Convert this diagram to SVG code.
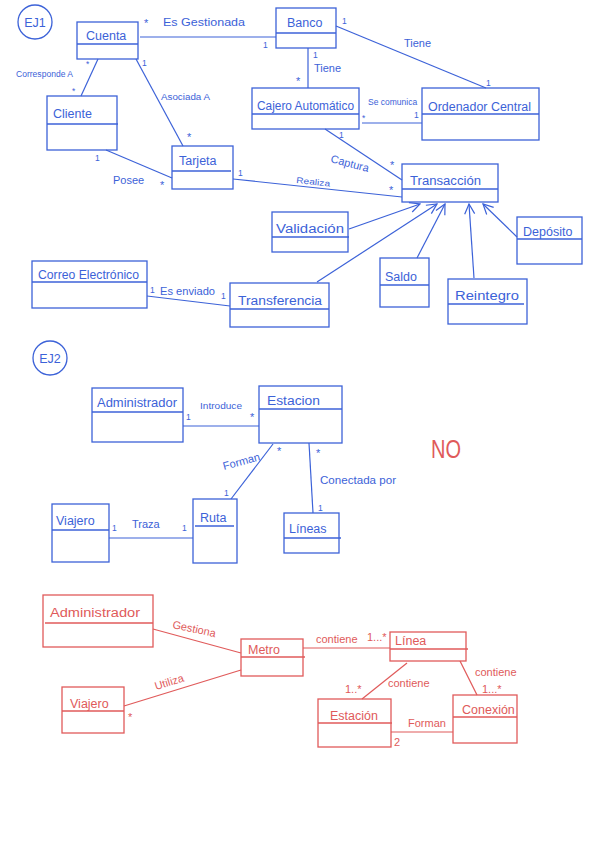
<svg xmlns="http://www.w3.org/2000/svg" width="600" height="848" viewBox="0 0 600 848">
<style>
.bb{fill:none;stroke:#3c62d8;stroke-width:1.3}
.rb{fill:none;stroke:#e05a5a;stroke-width:1.3}
.bl{fill:none;stroke:#3c62d8;stroke-width:1.2}
.rl{fill:none;stroke:#e05a5a;stroke-width:1.2}
text{font-family:"Liberation Sans","DejaVu Sans",sans-serif}
.bt{fill:#3c62d8;font-size:12.5px}
.bs{fill:#3c62d8;font-size:11px}
.bx{fill:#3c62d8;font-size:8.5px}
.rt{fill:#e05a5a;font-size:12.5px}
.rs{fill:#e05a5a;font-size:11px}
</style>
<defs>
<marker id="open" viewBox="0 0 12 12" refX="11" refY="6" markerWidth="12" markerHeight="12" markerUnits="userSpaceOnUse" orient="auto">
<path d="M1,1 L11,6 L1,11" fill="none" stroke="#3c62d8" stroke-width="1.2"/>
</marker>
</defs>
<rect width="600" height="848" fill="#ffffff"/>

<g id="ej1">
<circle cx="35" cy="22" r="17" class="bb"/>
<text x="35" y="27" class="bt" text-anchor="middle" font-size="13">EJ1</text>
</g>

<g id="cuenta"><rect x="77" y="22" width="61" height="37" class="bb"/><line x1="77" y1="44" x2="138" y2="44" class="bb"/><text x="86" y="40" class="bt">Cuenta</text></g>
<g id="banco"><rect x="276" y="8" width="60" height="40" class="bb"/><line x1="276" y1="33" x2="336" y2="33" class="bb"/><text x="287" y="27" class="bt">Banco</text></g>
<g id="cliente"><rect x="47" y="96" width="70" height="54" class="bb"/><line x1="47" y1="124" x2="118" y2="124" class="bb"/><text x="53" y="118" class="bt">Cliente</text></g>
<g id="tarjeta"><rect x="172" y="146" width="61" height="43" class="bb"/><line x1="172" y1="171" x2="231" y2="171" class="bb"/><text x="179" y="165" class="bt">Tarjeta</text></g>
<g id="cajero"><rect x="252" y="88" width="107" height="41" class="bb"/><line x1="252" y1="114" x2="359" y2="114" class="bb"/><text x="257" y="110" class="bt" textLength="97" lengthAdjust="spacingAndGlyphs">Cajero Automático</text></g>
<g id="ordenador"><rect x="422" y="88" width="117" height="52" class="bb"/><line x1="422" y1="114" x2="539" y2="114" class="bb"/><text x="428" y="111" class="bt" textLength="103" lengthAdjust="spacingAndGlyphs">Ordenador Central</text></g>
<g id="transaccion"><rect x="402" y="164" width="96" height="38" class="bb"/><line x1="402" y1="189" x2="498" y2="189" class="bb"/><text x="410" y="185" class="bt" textLength="71" lengthAdjust="spacingAndGlyphs">Transacción</text></g>
<g id="validacion"><rect x="272" y="212" width="76" height="40" class="bb"/><line x1="272" y1="237" x2="349" y2="237" class="bb"/><text x="276" y="233" class="bt" textLength="68" lengthAdjust="spacingAndGlyphs">Validación</text></g>
<g id="saldo"><rect x="380" y="258" width="49" height="49" class="bb"/><line x1="380" y1="285" x2="429" y2="285" class="bb"/><text x="385" y="281" class="bt">Saldo</text></g>
<g id="reintegro"><rect x="448" y="279" width="79" height="45" class="bb"/><line x1="448" y1="304" x2="524" y2="304" class="bb"/><text x="455" y="300" class="bt" textLength="64" lengthAdjust="spacingAndGlyphs">Reintegro</text></g>
<g id="deposito"><rect x="517" y="217" width="65" height="47" class="bb"/><line x1="517" y1="239" x2="582" y2="239" class="bb"/><text x="523" y="236" class="bt">Depósito</text></g>
<g id="transferencia"><rect x="230" y="283" width="99" height="44" class="bb"/><line x1="230" y1="309" x2="329" y2="309" class="bb"/><text x="238" y="305" class="bt" textLength="84" lengthAdjust="spacingAndGlyphs">Transferencia</text></g>
<g id="correo"><rect x="32" y="261" width="115" height="47" class="bb"/><line x1="32" y1="282" x2="147" y2="282" class="bb"/><text x="38" y="279" class="bt" textLength="101" lengthAdjust="spacingAndGlyphs">Correo Electrónico</text></g>

<g id="ej2">
<circle cx="50" cy="358" r="17" class="bb"/>
<text x="50" y="363" class="bt" text-anchor="middle" font-size="13">EJ2</text>
</g>

<g id="administrador"><rect x="92" y="388" width="91" height="54" class="bb"/><line x1="92" y1="412" x2="183" y2="412" class="bb"/><text x="97" y="407" class="bt" textLength="80" lengthAdjust="spacingAndGlyphs">Administrador</text></g>
<g id="estacion"><rect x="259" y="386" width="83" height="57" class="bb"/><line x1="259" y1="409" x2="342" y2="409" class="bb"/><text x="267" y="405" class="bt" textLength="53" lengthAdjust="spacingAndGlyphs">Estacion</text></g>
<g id="ruta"><rect x="193" y="499" width="44" height="64" class="bb"/><line x1="195" y1="526" x2="234" y2="526" class="bb"/><text x="200" y="522" class="bt">Ruta</text></g>
<g id="lineas"><rect x="284" y="513" width="55" height="40" class="bb"/><line x1="284" y1="538" x2="341" y2="538" class="bb"/><text x="289" y="533" class="bt">Líneas</text></g>
<g id="viajero"><rect x="52" y="504" width="57" height="58" class="bb"/><line x1="52" y1="530" x2="109" y2="530" class="bb"/><text x="56" y="525" class="bt">Viajero</text></g>

<text x="446" y="458" fill="#e05a5a" font-size="26" text-anchor="middle" font-family="Liberation Sans, sans-serif" textLength="30" lengthAdjust="spacingAndGlyphs">NO</text>

<g id="administrador-r"><rect x="43" y="595" width="110" height="52" class="rb"/><line x1="45" y1="623" x2="153" y2="623" class="rb"/><text x="50" y="617" class="rt" textLength="90" lengthAdjust="spacingAndGlyphs">Administrador</text></g>
<g id="metro"><rect x="241" y="639" width="62" height="37" class="rb"/><line x1="241" y1="657" x2="305" y2="657" class="rb"/><text x="248" y="654" class="rt">Metro</text></g>
<g id="viajero-r"><rect x="62" y="687" width="62" height="46" class="rb"/><line x1="62" y1="711" x2="124" y2="711" class="rb"/><text x="70" y="708" class="rt">Viajero</text></g>
<g id="linea"><rect x="390" y="632" width="76" height="29" class="rb"/><line x1="390" y1="649" x2="468" y2="649" class="rb"/><text x="395" y="645" class="rt">Línea</text></g>
<g id="estacion-r"><rect x="318" y="699" width="73" height="48" class="rb"/><line x1="318" y1="723" x2="392" y2="723" class="rb"/><text x="330" y="720" class="rt">Estación</text></g>
<g id="conexion"><rect x="453" y="695" width="64" height="48" class="rb"/><line x1="453" y1="717" x2="517" y2="717" class="rb"/><text x="462" y="714" class="rt">Conexión</text></g>

<g id="connectors">
<line x1="140" y1="37" x2="276" y2="37" class="bl"/>
<text x="144" y="27" class="bs">*</text>
<text x="163" y="26" class="bs" font-size="12" textLength="82" lengthAdjust="spacingAndGlyphs">Es Gestionada</text>
<text x="263" y="48" class="bx">1</text>

<line x1="308" y1="48" x2="308" y2="88" class="bl"/>
<text x="313" y="58" class="bx">1</text>
<text x="314" y="72" class="bs" font-size="12.5">Tiene</text>
<text x="296" y="85" class="bs">*</text>

<line x1="336" y1="26" x2="486" y2="88" class="bl"/>
<text x="342" y="24" class="bx">1</text>
<text x="404" y="47" class="bs" font-size="12">Tiene</text>
<text x="486" y="86" class="bx">1</text>

<line x1="362" y1="123" x2="422" y2="123" class="bl"/>
<text x="368" y="105" class="bx">Se comunica</text>
<text x="362" y="121" class="bx">*</text>
<text x="414" y="118" class="bx">1</text>

<line x1="98" y1="59" x2="81" y2="96" class="bl"/>
<text x="86" y="67" class="bx">*</text>
<text x="72" y="94" class="bx">*</text>
<text x="16" y="77" class="bx" textLength="57" lengthAdjust="spacingAndGlyphs">Corresponde A</text>

<line x1="136" y1="59" x2="183" y2="146" class="bl"/>
<text x="142" y="66" class="bx">1</text>
<text x="161" y="100" class="bx" textLength="49" lengthAdjust="spacingAndGlyphs">Asociada A</text>
<text x="187" y="141" class="bs">*</text>

<line x1="106" y1="150" x2="172" y2="178" class="bl"/>
<text x="95" y="161" class="bx">1</text>
<text x="113" y="184" class="bs">Posee</text>
<text x="160" y="189" class="bs">*</text>

<line x1="233" y1="179" x2="402" y2="197" class="bl"/>
<text x="238" y="176" class="bx">1</text>
<text x="296" y="183" class="bx" textLength="34" lengthAdjust="spacingAndGlyphs" transform="rotate(6 296 183)">Realiza</text>
<text x="389" y="194" class="bs">*</text>

<line x1="325" y1="129" x2="402" y2="180" class="bl"/>
<text x="339" y="138" class="bx">1</text>
<text x="330" y="162" class="bs" transform="rotate(15 330 162)">Captura</text>
<text x="390" y="169" class="bs">*</text>

<line x1="349" y1="229" x2="420" y2="204" class="bl" marker-end="url(#open)"/>
<line x1="317" y1="282" x2="437" y2="204" class="bl" marker-end="url(#open)"/>
<line x1="417" y1="258" x2="445" y2="204" class="bl" marker-end="url(#open)"/>
<line x1="474" y1="278" x2="469" y2="204" class="bl" marker-end="url(#open)"/>
<line x1="517" y1="237" x2="483" y2="204" class="bl" marker-end="url(#open)"/>

<line x1="147" y1="296" x2="230" y2="306" class="bl"/>
<text x="150" y="293" class="bx">1</text>
<text x="160" y="295" class="bs" textLength="55" lengthAdjust="spacingAndGlyphs">Es enviado</text>
<text x="221" y="299" class="bx">1</text>

<line x1="183" y1="426" x2="259" y2="426" class="bl"/>
<text x="186" y="420" class="bx">1</text>
<text x="200" y="409" class="bx" textLength="42" lengthAdjust="spacingAndGlyphs">Introduce</text>
<text x="250" y="421" class="bs">*</text>

<line x1="273" y1="444" x2="231" y2="499" class="bl"/>
<text x="277" y="455" class="bs">*</text>
<text x="224" y="470" class="bs" transform="rotate(-15 224 470)">Forman</text>
<text x="224" y="496" class="bx">1</text>

<line x1="309" y1="443" x2="313" y2="513" class="bl"/>
<text x="316" y="457" class="bs">*</text>
<text x="320" y="484" class="bs" textLength="76" lengthAdjust="spacingAndGlyphs">Conectada por</text>
<text x="318" y="511" class="bx">1</text>

<line x1="109" y1="538" x2="193" y2="538" class="bl"/>
<text x="112" y="531" class="bx">1</text>
<text x="132" y="528" class="bs">Traza</text>
<text x="182" y="531" class="bx">1</text>

<line x1="153" y1="629" x2="241" y2="653" class="rl"/>
<text x="172" y="628" class="rs" transform="rotate(12 172 628)">Gestiona</text>

<line x1="124" y1="706" x2="241" y2="670" class="rl"/>
<text x="156" y="690" class="rs" transform="rotate(-17 156 690)">Utiliza</text>
<text x="128" y="721" class="rs">*</text>

<line x1="303" y1="648" x2="390" y2="648" class="rl"/>
<text x="316" y="643" class="rs">contiene</text>
<text x="367" y="641" class="rs" font-size="9">1...*</text>

<line x1="407" y1="663" x2="362" y2="699" class="rl"/>
<text x="345" y="693" class="rs" font-size="9">1..*</text>
<text x="388" y="687" class="rs">contiene</text>

<line x1="460" y1="661" x2="477" y2="695" class="rl"/>
<text x="475" y="676" class="rs">contiene</text>
<text x="482" y="693" class="rs" font-size="9">1...*</text>

<line x1="391" y1="732" x2="453" y2="732" class="rl"/>
<text x="408" y="727" class="rs">Forman</text>
<text x="394" y="746" class="rs">2</text>
</g>
</svg>
